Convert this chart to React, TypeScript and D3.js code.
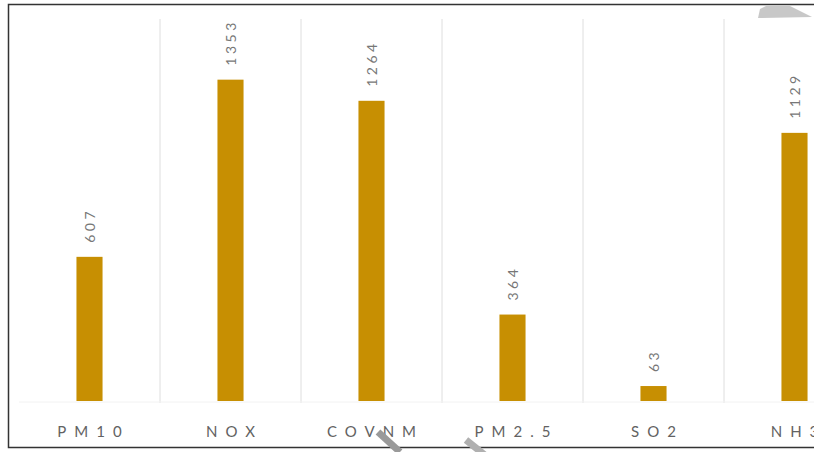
import React from "react";
import * as d3 from "d3";

const categories = ["PM10", "NOX", "COVNM", "PM2.5", "SO2", "NH3"];
const values = [607, 1353, 1264, 364, 63, 1129];
const yMax = 1600;

const W = 814;
const H = 452;
const plotTop = 21;
const plotBottom = 401;
const bandLeft = 19;
const step = 141;

export default function App() {
  const x = d3
    .scaleBand<string>()
    .domain(categories)
    .range([bandLeft, bandLeft + step * categories.length])
    .paddingInner(0.815)
    .paddingOuter(0.4075);
  const y = d3.scaleLinear().domain([0, yMax]).range([plotBottom, plotTop]);
  const color = "#c78f02";
  const font = "Lato, 'Open Sans', sans-serif";

  return (
    <svg
      width={W}
      height={H}
      style={{ position: "absolute", left: 0, top: 0, background: "#fff" }}
    >
      <rect x={0} y={0} width={W} height={H} fill="#fff" />
      {/* vertical gridlines */}
      {categories.slice(1).map((c, i) => {
        const gx = bandLeft + step * (i + 1);
        return (
          <line
            key={"g" + c}
            x1={gx}
            x2={gx}
            y1={plotTop - 2}
            y2={plotBottom + 2}
            stroke="#dedede"
            strokeWidth={1}
          />
        );
      })}
      {/* baseline */}
      <line x1={bandLeft} x2={W} y1={plotBottom + 1} y2={plotBottom + 1} stroke="#f2f2f2" strokeWidth={1} />
      {/* bars */}
      {categories.map((c, i) => (
        <rect
          key={"b" + c}
          x={x(c)}
          y={y(values[i])}
          width={x.bandwidth()}
          height={plotBottom - y(values[i])}
          fill={color}
        />
      ))}
      {/* value labels */}
      {categories.map((c, i) => {
        const cx = (x(c) as number) + x.bandwidth() / 2;
        const ty = y(values[i]) - 14;
        return (
          <text
            key={"v" + c}
            transform={`translate(${cx + 5},${ty}) rotate(-90)`}
            fontFamily={font}
            fontSize={14}
            letterSpacing={3.5}
            fill="#777"
            textAnchor="start"
          >
            {values[i]}
          </text>
        );
      })}
      {/* category labels */}
      {categories.map((c) => {
        const cx = (x(c) as number) + x.bandwidth() / 2;
        return (
          <text
            key={"c" + c}
            x={cx + 4}
            y={437}
            fontFamily={font}
            fontSize={15}
            letterSpacing={8}
            fill="#626262"
            textAnchor="middle"
          >
            {c}
          </text>
        );
      })}
      {/* frame */}
      <path
        d={`M${W + 2},4.5 H8.5 V447.5 H${W + 2}`}
        fill="none"
        stroke="#333"
        strokeWidth={1.5}
      />
      {/* grey marks */}
      <polygon points="758,18 760,9 766,6 790,6 812,17" fill="#c8c8c8" />
      <line x1={378} y1={432} x2={400} y2={452} stroke="#9a9a9a" strokeWidth={7} />
      <line x1={466} y1={440} x2={486} y2={456} stroke="#b0b0b0" strokeWidth={7} />
    </svg>
  );
}
